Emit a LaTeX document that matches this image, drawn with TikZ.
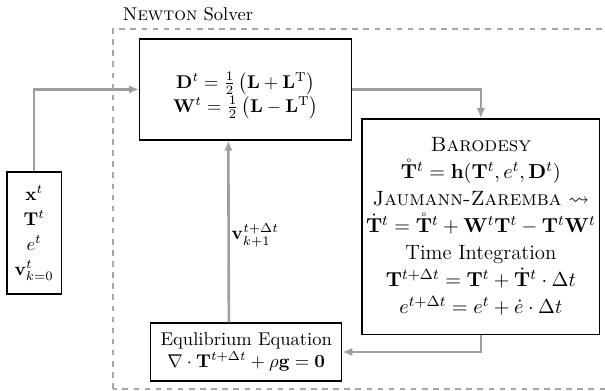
\documentclass[tikz,border=0pt]{standalone}
\usepackage{amsmath,amssymb}
\usepackage{xcolor}
\usepackage{tikz}
\usetikzlibrary{arrows.meta,positioning,calc}

\begin{document}
\begin{tikzpicture}[>={Latex[length=1.9mm,width=1.6mm]},
  blk/.style={draw,line width=0.7pt,align=center,inner sep=2pt},
  conn/.style={draw=gray!75,line width=1.4pt},
  frame/.style={draw=gray!70,line width=1.2pt,dashed}]
\useasboundingbox (0,0) rectangle (11.5,7.43);
\draw[frame] (2.15,0.04) rectangle (11.9,6.88);
\node (title) at (3.57,7.16) {\textsc{Newton} Solver};
\node[blk,minimum width=4.03cm,minimum height=1.92cm] (sym) at (4.67,5.73)
  {\rule{0pt}{15pt}$\mathbf{D}^t = \frac{1}{2}\left(\mathbf{L}+\mathbf{L}^{\mathrm{T}}\right)$\\
   $\mathbf{W}^t = \frac{1}{2}\left(\mathbf{L}-\mathbf{L}^{\mathrm{T}}\right)$};
\node[blk,minimum width=4.52cm,minimum height=4.10cm,font=\fontsize{11.2}{14.6}\selectfont] (baro) at (9.14,3.12)
  {\textsc{Barodesy}\\
   $\mathring{\mathbf{T}}^t = \mathbf{h}(\mathbf{T}^t,e^t,\mathbf{D}^t)$\\
   \textsc{Jaumann-Zaremba} $\leadsto$\\
   $\dot{\mathbf{T}}^t = \mathring{\mathbf{T}}^t + \mathbf{W}^t\mathbf{T}^t - \mathbf{T}^t\mathbf{W}^t$\\
   Time Integration\\
   $\mathbf{T}^{t+\Delta t} = \mathbf{T}^t + \dot{\mathbf{T}}^t\cdot\Delta t$\\
   $e^{t+\Delta t} = e^t + \dot{e}\cdot\Delta t$};
\node[blk,minimum width=3.63cm,minimum height=1.10cm] (eq) at (4.68,0.74)
  {Equlibrium Equation\\
   $\nabla\cdot\mathbf{T}^{t+\Delta t} + \rho\mathbf{g} = \mathbf{0}$};
\node[blk,minimum width=1.03cm,minimum height=2.32cm,font=\fontsize{10}{13.5}\selectfont] (init) at (0.65,3.0)
  {$\mathbf{x}^t$\\ $\mathbf{T}^t$\\ $e^t$\\ $\mathbf{v}^t_{k=0}$};
\draw[conn,->] (init.north) |- (sym.west);
\draw[conn,->] (sym.east) -| (baro.north);
\draw[conn,->] (baro.south) |- (eq.east);
\draw[conn,->] ([xshift=-3.3mm]eq.north) -- ([xshift=-3.3mm]sym.south)
  node[pos=0.48,right,inner sep=1pt] (vel) {$\mathbf{v}^{t+\Delta t}_{k+1}$};
\end{tikzpicture}
\end{document}
